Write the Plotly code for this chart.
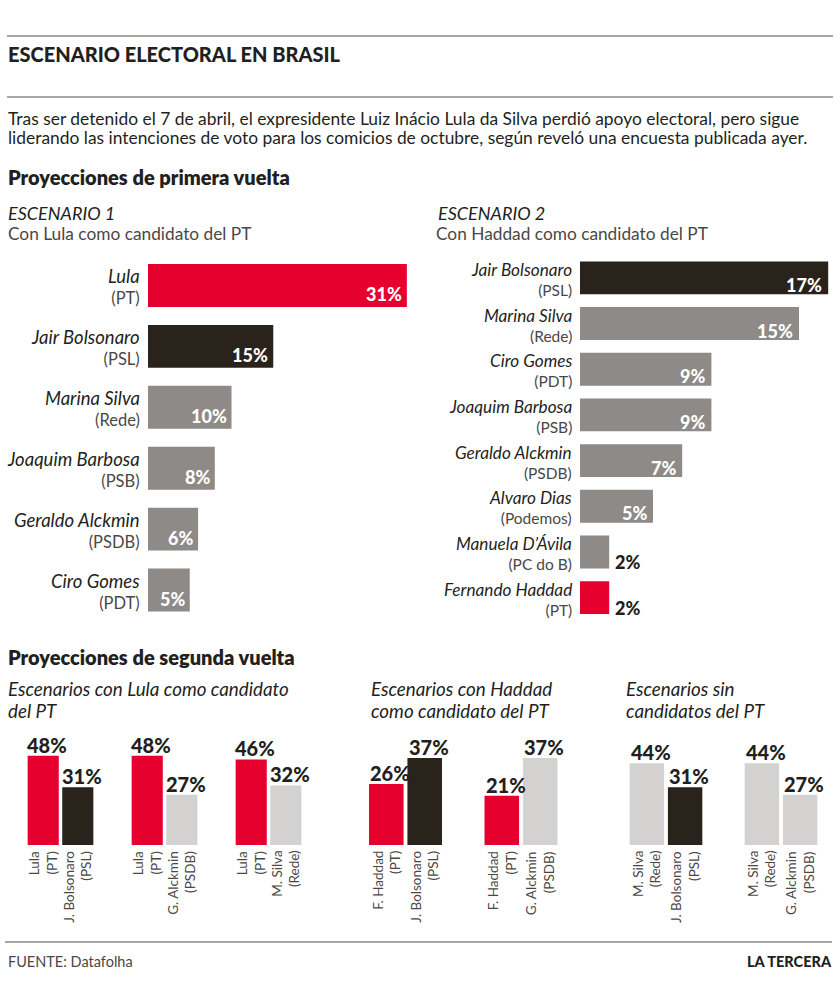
import plotly.graph_objects as go

# ---------------- DATA ----------------
esc1_names = ["Lula", "Jair Bolsonaro", "Marina Silva", "Joaquim Barbosa", "Geraldo Alckmin", "Ciro Gomes"]
esc1_parties = ["PT", "PSL", "Rede", "PSB", "PSDB", "PDT"]
esc1_values = [31, 15, 10, 8, 6, 5]

esc2_names = ["Jair Bolsonaro", "Marina Silva", "Ciro Gomes", "Joaquim Barbosa", "Geraldo Alckmin",
              "Alvaro Dias", "Manuela D’Ávila", "Fernando Haddad"]
esc2_parties = ["PSL", "Rede", "PDT", "PSB", "PSDB", "Podemos", "PC do B", "PT"]
esc2_values = [17, 15, 9, 9, 7, 5, 2, 2]

# second round: (candidate A, party A), (candidate B, party B)
r2_lula_a = [("Lula", "PT"), ("Lula", "PT"), ("Lula", "PT")]
r2_lula_b = [("J. Bolsonaro", "PSL"), ("G. Alckmin", "PSDB"), ("M. Silva", "Rede")]
r2_lula_va = [48, 48, 46]
r2_lula_vb = [31, 27, 32]

r2_had_a = [("F. Haddad", "PT"), ("F. Haddad", "PT")]
r2_had_b = [("J. Bolsonaro", "PSL"), ("G. Alckmin", "PSDB")]
r2_had_va = [26, 21]
r2_had_vb = [37, 37]

r2_sin_a = [("M. Silva", "Rede"), ("M. Silva", "Rede")]
r2_sin_b = [("J. Bolsonaro", "PSL"), ("G. Alckmin", "PSDB")]
r2_sin_va = [44, 44]
r2_sin_vb = [31, 27]

# ---------------- STYLE ----------------
W, H = 840, 1006
RED = "#E6002D"
DARK = "#2A231B"
GREY = "#8D8A87"
LIGHT = "#D3D2D0"
TEXT = "#231F20"
SUB = "#4B4746"
LINE = "#8A8886"
FONT = "Lato"
HEAVY = "Lato Black, Lato"


def px(x):
    return x / W


def py(y):
    return 1 - y / H


def c1(p):
    return {"PT": RED, "PSL": DARK}.get(p, GREY)


def c2(p):
    return {"PT": RED, "PSL": DARK}.get(p, LIGHT)


def label(name, party, name_size, party_size):
    return (f"<span style='font-size:{name_size}px;color:{TEXT}'><i>{name}</i></span><br>"
            f"<span style='font-size:{party_size}px;color:{SUB}'>({party})</span>")


fig = go.Figure()
ann = []

# ---------- Scenario 1 ----------
fig.add_trace(go.Bar(x=esc1_values, y=esc1_names, orientation="h", width=0.705,
                     marker=dict(color=[c1(p) for p in esc1_parties], line=dict(width=0)),
                     xaxis="x", yaxis="y", hoverinfo="skip"))
for n, p, v in zip(esc1_names, esc1_parties, esc1_values):
    ann.append(dict(xref="paper", x=px(142), yref="y", y=n, xanchor="right", yanchor="middle",
                    yshift=-1.5, align="right", text=label(n, p, 18.5, 16.5),
                    font=dict(size=16, color=TEXT)))
    inside = v >= 4
    ann.append(dict(xref="x", x=v, yref="y", y=n, xanchor="right" if inside else "left",
                    xshift=-3 if inside else 5, yanchor="middle", yshift=-9,
                    text=f"{v}%", font=dict(family=HEAVY, size=18, weight=900,
                                            color="white" if inside else TEXT)))

# ---------- Scenario 2 ----------
fig.add_trace(go.Bar(x=esc2_values, y=esc2_names, orientation="h", width=0.72,
                     marker=dict(color=[c1(p) for p in esc2_parties], line=dict(width=0)),
                     xaxis="x2", yaxis="y2", hoverinfo="skip"))
for n, p, v in zip(esc2_names, esc2_parties, esc2_values):
    ann.append(dict(xref="paper", x=px(574), yref="y2", y=n, xanchor="right", yanchor="middle",
                    yshift=-1, align="right", text=label(n, p, 17.2, 15.5),
                    font=dict(size=15, color=TEXT)))
    inside = v >= 4
    ann.append(dict(xref="x2", x=v, yref="y2", y=n, xanchor="right" if inside else "left",
                    xshift=-4 if inside else 4, yanchor="middle", yshift=-7 if inside else -10,
                    text=f"{v}%", font=dict(family=HEAVY, size=18, weight=900,
                                            color="white" if inside else TEXT)))

# ---------- Second round ----------
BARGAP = 0.335
OFF = (1 - BARGAP) / 4
sections = [
    (r2_lula_a, r2_lula_b, r2_lula_va, r2_lula_vb, "x3", "y3"),
    (r2_had_a, r2_had_b, r2_had_va, r2_had_vb, "x4", "y4"),
    (r2_sin_a, r2_sin_b, r2_sin_va, r2_sin_vb, "x5", "y5"),
]
for A, B, VA, VB, xa, ya in sections:
    cats = [f"{a[0]} vs {b[0]}" for a, b in zip(A, B)]
    fig.add_trace(go.Bar(x=cats, y=VA, marker=dict(color=[c2(a[1]) for a in A], line=dict(width=0)),
                         xaxis=xa, yaxis=ya, hoverinfo="skip"))
    fig.add_trace(go.Bar(x=cats, y=VB, marker=dict(color=[c2(b[1]) for b in B], line=dict(width=0)),
                         xaxis=xa, yaxis=ya, hoverinfo="skip"))
    for i in range(len(cats)):
        for side, (cand, val) in ((-1, (A[i], VA[i])), (1, (B[i], VB[i]))):
            xpos = i + side * OFF
            ann.append(dict(xref=xa, x=xpos, yref=ya, y=val, xanchor="center", yanchor="bottom",
                            xshift=4, yshift=-3, text=f"{val}%",
                            font=dict(family=HEAVY, size=20, weight=900, color=TEXT)))
            ann.append(dict(xref=xa, x=xpos, yref=ya, y=0, xanchor="center", yanchor="top",
                            yshift=-4, textangle=-90, align="right",
                            text=f"{cand[0]}<br>({cand[1]})",
                            font=dict(size=13.5, color=SUB)))

# ---------- Texts ----------
def txt(x, y, s, size, color=TEXT, anchor="left", weight=None, style=None, family=None):
    f = dict(size=size, color=color)
    if weight:
        f["weight"] = weight
    if style:
        f["style"] = style
    if family:
        f["family"] = family
    ann.append(dict(xref="paper", yref="paper", x=px(x), y=py(y), xanchor=anchor, yanchor="middle",
                    text=s, showarrow=False, font=f, align="left"))


txt(6, 54, "ESCENARIO ELECTORAL EN BRASIL", 20, weight=900, family=HEAVY)
txt(6, 118, "Tras ser detenido el 7 de abril, el expresidente Luiz Inácio Lula da Silva perdió apoyo electoral, pero sigue", 17.4)
txt(6, 138, "liderando las intenciones de voto para los comicios de octubre, según reveló una encuesta publicada ayer.", 17.4)
txt(6, 177, "Proyecciones de primera vuelta", 20, weight=800)
txt(6, 213, "ESCENARIO 1", 18, style="italic")
txt(6, 233, "Con Lula como candidato del PT", 17.3, SUB)
txt(436, 213, "ESCENARIO 2", 18, style="italic")
txt(434, 233, "Con Haddad como candidato del PT", 17.3, SUB)
txt(6, 657, "Proyecciones de segunda vuelta", 20, weight=800)
txt(6, 688, "Escenarios con Lula como candidato", 18.8, style="italic")
txt(6, 710, "del PT", 18.8, style="italic")
txt(369, 688, "Escenarios con Haddad", 18.8, style="italic")
txt(369, 710, "como candidato del PT", 18.8, style="italic")
txt(624, 688, "Escenarios sin", 18.8, style="italic")
txt(624, 710, "candidatos del PT", 18.8, style="italic")
txt(6, 961, "FUENTE: Datafolha", 14.5, SUB)
txt(834, 961, "LA TERCERA", 14.5, anchor="right", weight=900, family=HEAVY)

for a in ann:
    a.setdefault("showarrow", False)

shapes = []
for y, x0, x1 in ((36, 7, 833), (97, 7, 833), (942, 5, 832)):
    shapes.append(dict(type="line", xref="paper", yref="paper", x0=px(x0), x1=px(x1), y0=py(y), y1=py(y),
                       line=dict(color=LINE, width=1.3)))

hid = dict(showgrid=False, zeroline=False, showticklabels=False, ticks="", showline=False, fixedrange=True)

ydom = [py(620.5), py(255)]
y1_range = [len(esc1_names) - 0.5, -0.5]
y2_range = [len(esc2_names) - 0.5, -0.5]

fig.update_layout(
    width=W, height=H, margin=dict(l=0, r=0, t=0, b=0),
    paper_bgcolor="white", plot_bgcolor="rgba(0,0,0,0)",
    font=dict(family=FONT, color=TEXT),
    showlegend=False, barmode="group", bargap=BARGAP, bargroupgap=0.1,
    xaxis=dict(domain=[px(148), px(408)], range=[0, 260 / 8.35], **hid),
    yaxis=dict(domain=ydom, range=y1_range, anchor="x", **hid),
    xaxis2=dict(domain=[px(580), px(830)], range=[0, 250 / 14.6], anchor="y2", **hid),
    yaxis2=dict(domain=ydom, range=y2_range, anchor="x2", **hid),
    xaxis3=dict(domain=[px(8.5), px(320.5)], anchor="y3", **hid),
    yaxis3=dict(domain=[py(845), py(845 - 1.86 * 55)], range=[0, 55], anchor="x3", **hid),
    xaxis4=dict(domain=[px(347.75), px(578.75)], anchor="y4", **hid),
    yaxis4=dict(domain=[py(845), py(845 - 2.35 * 44)], range=[0, 44], anchor="x4", **hid),
    xaxis5=dict(domain=[px(608.5), px(838.5)], anchor="y5", **hid),
    yaxis5=dict(domain=[py(845), py(845 - 1.86 * 55)], range=[0, 55], anchor="x5", **hid),
    annotations=ann, shapes=shapes,
)

fig.write_html("out.html", config={"displayModeBar": False})
